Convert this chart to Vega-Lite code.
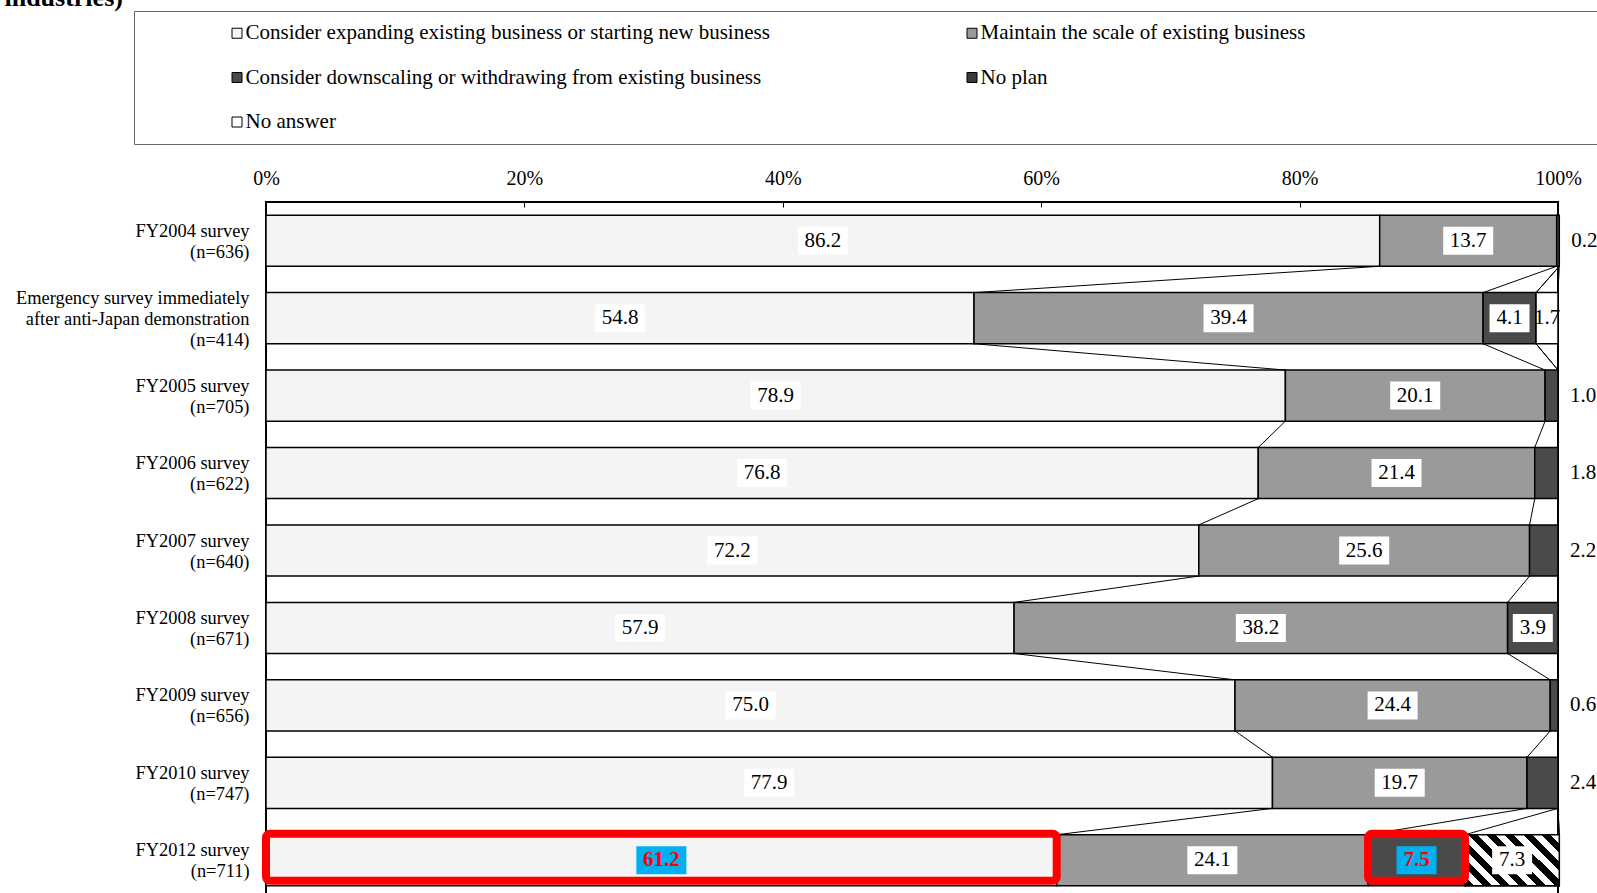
{
  "$schema": "https://vega.github.io/schema/vega-lite/v6.json",
  "autosize": {"type": "none"},
  "width": 1292,
  "height": 697,
  "padding": {"left": 266, "top": 202, "right": 39, "bottom": 0},
  "background": "white",
  "title": {
    "text": "industries)",
    "anchor": "start",
    "frame": "bounds",
    "fontSize": 26,
    "fontWeight": "bold",
    "font": "Liberation Serif",
    "color": "black",
    "baseline": "alphabetic",
    "offset": 0,
    "dx": -11,
    "dy": 21
  },
  "config": {
    "font": "Liberation Serif",
    "view": {"stroke": "black", "strokeWidth": 2}
  },
  "data": {
    "values": [
      {"survey": "FY2004 survey\n(n=636)", "category": "Consider expanding existing business or starting new business", "value": 86.2},
      {"survey": "FY2004 survey\n(n=636)", "category": "Maintain the scale of existing business", "value": 13.7},
      {"survey": "FY2004 survey\n(n=636)", "category": "Consider downscaling or withdrawing from existing business", "value": 0.2},
      {"survey": "FY2004 survey\n(n=636)", "category": "No plan", "value": 0},
      {"survey": "FY2004 survey\n(n=636)", "category": "No answer", "value": 0},
      {"survey": "Emergency survey immediately\nafter anti-Japan demonstration\n(n=414)", "category": "Consider expanding existing business or starting new business", "value": 54.8},
      {"survey": "Emergency survey immediately\nafter anti-Japan demonstration\n(n=414)", "category": "Maintain the scale of existing business", "value": 39.4},
      {"survey": "Emergency survey immediately\nafter anti-Japan demonstration\n(n=414)", "category": "Consider downscaling or withdrawing from existing business", "value": 4.1},
      {"survey": "Emergency survey immediately\nafter anti-Japan demonstration\n(n=414)", "category": "No plan", "value": 0},
      {"survey": "Emergency survey immediately\nafter anti-Japan demonstration\n(n=414)", "category": "No answer", "value": 1.7},
      {"survey": "FY2005 survey\n(n=705)", "category": "Consider expanding existing business or starting new business", "value": 78.9},
      {"survey": "FY2005 survey\n(n=705)", "category": "Maintain the scale of existing business", "value": 20.1},
      {"survey": "FY2005 survey\n(n=705)", "category": "Consider downscaling or withdrawing from existing business", "value": 1.0},
      {"survey": "FY2005 survey\n(n=705)", "category": "No plan", "value": 0},
      {"survey": "FY2005 survey\n(n=705)", "category": "No answer", "value": 0},
      {"survey": "FY2006 survey\n(n=622)", "category": "Consider expanding existing business or starting new business", "value": 76.8},
      {"survey": "FY2006 survey\n(n=622)", "category": "Maintain the scale of existing business", "value": 21.4},
      {"survey": "FY2006 survey\n(n=622)", "category": "Consider downscaling or withdrawing from existing business", "value": 1.8},
      {"survey": "FY2006 survey\n(n=622)", "category": "No plan", "value": 0},
      {"survey": "FY2006 survey\n(n=622)", "category": "No answer", "value": 0},
      {"survey": "FY2007 survey\n(n=640)", "category": "Consider expanding existing business or starting new business", "value": 72.2},
      {"survey": "FY2007 survey\n(n=640)", "category": "Maintain the scale of existing business", "value": 25.6},
      {"survey": "FY2007 survey\n(n=640)", "category": "Consider downscaling or withdrawing from existing business", "value": 2.2},
      {"survey": "FY2007 survey\n(n=640)", "category": "No plan", "value": 0},
      {"survey": "FY2007 survey\n(n=640)", "category": "No answer", "value": 0},
      {"survey": "FY2008 survey\n(n=671)", "category": "Consider expanding existing business or starting new business", "value": 57.9},
      {"survey": "FY2008 survey\n(n=671)", "category": "Maintain the scale of existing business", "value": 38.2},
      {"survey": "FY2008 survey\n(n=671)", "category": "Consider downscaling or withdrawing from existing business", "value": 3.9},
      {"survey": "FY2008 survey\n(n=671)", "category": "No plan", "value": 0},
      {"survey": "FY2008 survey\n(n=671)", "category": "No answer", "value": 0},
      {"survey": "FY2009 survey\n(n=656)", "category": "Consider expanding existing business or starting new business", "value": 75.0},
      {"survey": "FY2009 survey\n(n=656)", "category": "Maintain the scale of existing business", "value": 24.4},
      {"survey": "FY2009 survey\n(n=656)", "category": "Consider downscaling or withdrawing from existing business", "value": 0.6},
      {"survey": "FY2009 survey\n(n=656)", "category": "No plan", "value": 0},
      {"survey": "FY2009 survey\n(n=656)", "category": "No answer", "value": 0},
      {"survey": "FY2010 survey\n(n=747)", "category": "Consider expanding existing business or starting new business", "value": 77.9},
      {"survey": "FY2010 survey\n(n=747)", "category": "Maintain the scale of existing business", "value": 19.7},
      {"survey": "FY2010 survey\n(n=747)", "category": "Consider downscaling or withdrawing from existing business", "value": 2.4},
      {"survey": "FY2010 survey\n(n=747)", "category": "No plan", "value": 0},
      {"survey": "FY2010 survey\n(n=747)", "category": "No answer", "value": 0},
      {"survey": "FY2012 survey\n(n=711)", "category": "Consider expanding existing business or starting new business", "value": 61.2},
      {"survey": "FY2012 survey\n(n=711)", "category": "Maintain the scale of existing business", "value": 24.1},
      {"survey": "FY2012 survey\n(n=711)", "category": "Consider downscaling or withdrawing from existing business", "value": 7.5},
      {"survey": "FY2012 survey\n(n=711)", "category": "No plan", "value": 7.3},
      {"survey": "FY2012 survey\n(n=711)", "category": "No answer", "value": 0}
    ]
  },
  "transform": [
    {"window": [{"op": "row_number", "as": "rn"}]},
    {"stack": "value", "groupby": ["survey"], "sort": [{"field": "rn", "order": "ascending"}], "as": ["start", "cum"]},
    {"window": [{"op": "lead", "field": "cum", "as": "next_cum"}, {"op": "lead", "field": "survey", "as": "next_survey"}], "groupby": ["category"], "sort": [{"field": "rn", "order": "ascending"}]}
  ],
  "encoding": {
    "y": {
      "field": "survey",
      "type": "nominal",
      "scale": {
        "domain": [
          "FY2004 survey\n(n=636)",
          "Emergency survey immediately\nafter anti-Japan demonstration\n(n=414)",
          "FY2005 survey\n(n=705)",
          "FY2006 survey\n(n=622)",
          "FY2007 survey\n(n=640)",
          "FY2008 survey\n(n=671)",
          "FY2009 survey\n(n=656)",
          "FY2010 survey\n(n=747)",
          "FY2012 survey\n(n=711)"
        ],
        "paddingInner": 0.34,
        "paddingOuter": 0.17
      },
      "axis": {
        "title": null,
        "domain": false,
        "ticks": false,
        "labelFont": "Liberation Serif",
        "labelFontSize": 18.4,
        "labelLineHeight": 21,
        "labelAlign": "right",
        "labelBaseline": "middle",
        "labelPadding": 17,
        "labelLimit": 400,
        "labelColor": "black",
        "labelOffset": {"condition": {"test": "indexof(datum.label, 'Emergency') >= 0", "value": -20}, "value": -10},
        "labelExpr": "split(datum.label, '\\n')"
      }
    }
  },
  "layer": [
    {
      "transform": [{"filter": "datum.value > 0"}],
      "mark": {"type": "bar", "stroke": "black", "strokeWidth": 1.5},
      "encoding": {
        "x": {
          "field": "start",
          "type": "quantitative",
          "scale": {"domain": [0, 100], "nice": false, "zero": true},
          "axis": {
            "orient": "top",
            "title": null,
            "values": [0, 20, 40, 60, 80, 100],
            "labelExpr": "datum.value + '%'",
            "grid": false,
            "domain": false,
            "tickSize": -5,
            "tickColor": "black",
            "tickWidth": 1,
            "labelFont": "Liberation Serif",
            "labelFontSize": 20,
            "labelColor": "black",
            "labelPadding": 19,
            "labelFlush": false
          }
        },
        "x2": {"field": "cum"},
        "fill": {
          "field": "category",
          "type": "nominal",
          "scale": {
            "domain": [
              "Consider expanding existing business or starting new business",
              "Maintain the scale of existing business",
              "Consider downscaling or withdrawing from existing business",
              "No plan",
              "No answer"
            ],
            "range": ["#f4f4f4", "#9a9a9a", "#4a4a4a", "#3a3a3a", "#ffffff"]
          },
          "legend": {
            "title": "\u00a0",
            "titleOrient": "left",
            "titleFontSize": 12,
            "titlePadding": 81,
            "orient": "none",
            "legendX": -132,
            "legendY": -191,
            "direction": "horizontal",
            "columns": 2,
            "gridAlign": "each",
            "columnPadding": 191,
            "rowPadding": 22.5,
            "padding": 11.5,
            "strokeColor": "#666666",
            "fillColor": "white",
            "labelFont": "Liberation Serif",
            "labelFontSize": 21,
            "labelColor": "black",
            "labelLimit": 5000,
            "labelOffset": -2,
            "symbolType": "square",
            "symbolSize": 100,
            "symbolStrokeColor": "black",
            "symbolStrokeWidth": 1,
            "symbolOpacity": 1,
            "labelExpr": "datum.label == 'Maintain the scale of existing business' ? datum.label + '\u2800\u2800\u2800\u2800\u2800\u2800\u2800\u2800\u2800\u2800\u2800\u2800\u2800\u2800\u2800\u2800\u2800\u2800\u2800\u2800\u2800\u2800\u2800\u2800\u2800\u2800\u2800\u2800\u2800\u2800\u2800\u2800\u2800\u2800\u2800\u2800\u2800\u2800\u2800\u2800\u2800\u2800\u2800\u2800\u2800\u2800\u2800\u2800\u2800\u2800\u2800\u2800\u2800\u2800\u2800\u2800\u2800\u2800\u2800\u2800' : datum.label"
          }
        }
      }
    },
    {
      "transform": [{"filter": "datum.category == 'No plan' && datum.value > 0"}],
      "mark": {
        "type": "bar",
        "stroke": "black",
        "strokeWidth": 1.5,
        "fill": {
          "gradient": "linear",
          "x1": 0, "y1": 1, "x2": 1.19, "y2": 0.354,
          "stops": [
            {"offset": 0, "color": "black"}, {"offset": 0.0625, "color": "black"}, {"offset": 0.0625, "color": "white"}, {"offset": 0.125, "color": "white"},
            {"offset": 0.125, "color": "black"}, {"offset": 0.1875, "color": "black"}, {"offset": 0.1875, "color": "white"}, {"offset": 0.25, "color": "white"},
            {"offset": 0.25, "color": "black"}, {"offset": 0.3125, "color": "black"}, {"offset": 0.3125, "color": "white"}, {"offset": 0.375, "color": "white"},
            {"offset": 0.375, "color": "black"}, {"offset": 0.4375, "color": "black"}, {"offset": 0.4375, "color": "white"}, {"offset": 0.5, "color": "white"},
            {"offset": 0.5, "color": "black"}, {"offset": 0.5625, "color": "black"}, {"offset": 0.5625, "color": "white"}, {"offset": 0.625, "color": "white"},
            {"offset": 0.625, "color": "black"}, {"offset": 0.6875, "color": "black"}, {"offset": 0.6875, "color": "white"}, {"offset": 0.75, "color": "white"},
            {"offset": 0.75, "color": "black"}, {"offset": 0.8125, "color": "black"}, {"offset": 0.8125, "color": "white"}, {"offset": 0.875, "color": "white"},
            {"offset": 0.875, "color": "black"}, {"offset": 0.9375, "color": "black"}, {"offset": 0.9375, "color": "white"}, {"offset": 1, "color": "white"}
          ]
        }
      },
      "encoding": {
        "x": {"field": "start", "type": "quantitative"},
        "x2": {"field": "cum"}
      }
    },
    {
      "transform": [{"filter": "datum.next_survey != null"}],
      "mark": {"type": "rule", "color": "black", "strokeWidth": 1},
      "encoding": {
        "x": {"field": "cum", "type": "quantitative"},
        "x2": {"field": "next_cum"},
        "y": {
          "field": "survey",
          "type": "nominal",
          "bandPosition": 1,
          "scale": {
            "domain": [
              "FY2004 survey\n(n=636)",
              "Emergency survey immediately\nafter anti-Japan demonstration\n(n=414)",
              "FY2005 survey\n(n=705)",
              "FY2006 survey\n(n=622)",
              "FY2007 survey\n(n=640)",
              "FY2008 survey\n(n=671)",
              "FY2009 survey\n(n=656)",
              "FY2010 survey\n(n=747)",
              "FY2012 survey\n(n=711)"
            ],
            "paddingInner": 0.34,
            "paddingOuter": 0.17
          }
        },
        "y2": {"field": "next_survey", "bandPosition": 0}
      }
    },
    {
      "transform": [
        {"filter": "indexof(datum.survey, 'FY2012') >= 0 && (datum.category == 'Consider expanding existing business or starting new business' || datum.category == 'Consider downscaling or withdrawing from existing business')"}
      ],
      "mark": {"type": "bar", "fillOpacity": 0, "stroke": "#ff0000", "strokeWidth": 8, "cornerRadius": 4, "height": 47, "yOffset": -3},
      "encoding": {
        "x": {"field": "start", "type": "quantitative"},
        "x2": {"field": "cum"}
      }
    },
    {
      "transform": [
        {"filter": "datum.value > 0 && datum.category != 'No answer' && datum.value >= 3"},
        {"fold": ["start", "cum"], "as": ["edge", "pos"]},
        {"aggregate": [{"op": "mean", "field": "pos", "as": "mid"}], "groupby": ["survey", "category", "value"]}
      ],
      "mark": {"type": "point", "filled": true, "opacity": 1, "strokeWidth": 0},
      "encoding": {
        "x": {"field": "mid", "type": "quantitative"},
        "shape": {
          "condition": {"test": "datum.value >= 10", "value": "M-1,-0.56H1V0.56H-1Z"},
          "value": "M-1,-0.7H1V0.7H-1Z"
        },
        "size": {
          "condition": {"test": "datum.value >= 10", "value": 2500},
          "value": 1600
        },
        "fill": {
          "condition": {"test": "indexof(datum.survey, 'FY2012') >= 0 && (datum.category == 'Consider expanding existing business or starting new business' || datum.category == 'Consider downscaling or withdrawing from existing business')", "value": "#00b0f0"},
          "value": "white"
        }
      }
    },
    {
      "transform": [
        {"filter": "datum.value > 0 && (datum.value >= 3 || datum.category == 'No answer')"},
        {"filter": "!(indexof(datum.survey, 'FY2012') >= 0 && (datum.category == 'Consider expanding existing business or starting new business' || datum.category == 'Consider downscaling or withdrawing from existing business'))"},
        {"fold": ["start", "cum"], "as": ["edge", "pos"]},
        {"aggregate": [{"op": "mean", "field": "pos", "as": "mid"}], "groupby": ["survey", "category", "value"]}
      ],
      "mark": {"type": "text", "font": "Liberation Serif", "fontSize": 21, "color": "black", "baseline": "middle", "align": "center"},
      "encoding": {
        "x": {"field": "mid", "type": "quantitative"},
        "text": {"field": "value", "type": "quantitative", "format": ".1f"}
      }
    },
    {
      "transform": [
        {"filter": "indexof(datum.survey, 'FY2012') >= 0 && (datum.category == 'Consider expanding existing business or starting new business' || datum.category == 'Consider downscaling or withdrawing from existing business')"},
        {"fold": ["start", "cum"], "as": ["edge", "pos"]},
        {"aggregate": [{"op": "mean", "field": "pos", "as": "mid"}], "groupby": ["survey", "category", "value"]}
      ],
      "mark": {"type": "text", "font": "Liberation Serif", "fontSize": 21, "fontWeight": "bold", "color": "#ff0000", "baseline": "middle", "align": "center"},
      "encoding": {
        "x": {"field": "mid", "type": "quantitative"},
        "text": {"field": "value", "type": "quantitative", "format": ".1f"}
      }
    },
    {
      "transform": [{"filter": "datum.value > 0 && datum.value < 3 && datum.category != 'No answer'"}],
      "mark": {"type": "text", "font": "Liberation Serif", "fontSize": 21, "color": "black", "baseline": "middle", "align": "left", "dx": 12},
      "encoding": {
        "x": {"field": "cum", "type": "quantitative"},
        "text": {"field": "value", "type": "quantitative", "format": ".1f"}
      }
    }
  ]
}
